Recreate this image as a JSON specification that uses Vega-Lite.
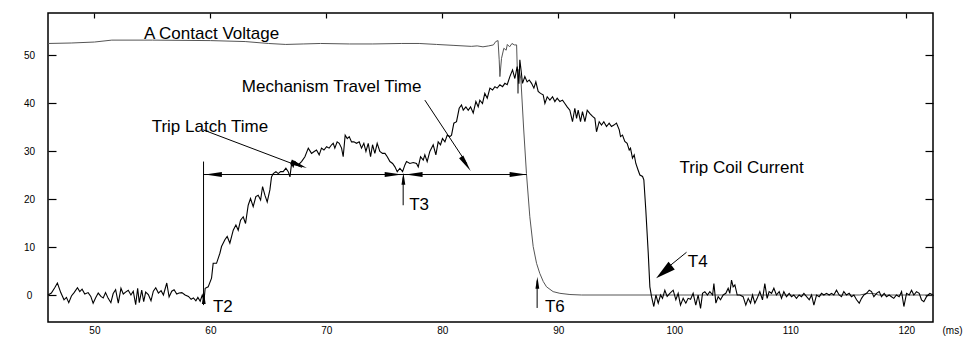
{
  "$schema": "https://vega.github.io/schema/vega-lite/v6.json",
  "width": 885,
  "height": 309,
  "autosize": {"type": "none"},
  "padding": {"left": 48, "top": 13, "right": 33, "bottom": 17},
  "background": "#ffffff",
  "config": {
    "view": {"stroke": "#000000", "strokeWidth": 1.5},
    "font": "Liberation Sans",
    "axis": {"grid": false, "domain": false, "labelFont": "Liberation Sans", "labelFontSize": 10, "labelColor": "#000000", "tickColor": "#000000", "tickWidth": 1.2, "titleFont": "Liberation Sans"}
  },
  "datasets": {
    "voltage": [
      {"x": 46.0, "y": 52.4}, {"x": 48.0, "y": 52.5}, {"x": 50.0, "y": 52.7}, {"x": 51.5, "y": 53.1}, {"x": 55.0, "y": 53.1},
      {"x": 60.0, "y": 53.0}, {"x": 63.0, "y": 52.8}, {"x": 65.0, "y": 52.4}, {"x": 66.5, "y": 52.2}, {"x": 68.0, "y": 52.3},
      {"x": 69.5, "y": 52.4}, {"x": 72.0, "y": 52.3}, {"x": 74.0, "y": 52.3}, {"x": 76.5, "y": 52.4}, {"x": 78.0, "y": 52.4},
      {"x": 79.5, "y": 52.2}, {"x": 81.0, "y": 52.0}, {"x": 82.5, "y": 51.8}, {"x": 83.0, "y": 51.9}, {"x": 83.5, "y": 51.7},
      {"x": 84.0, "y": 51.9}, {"x": 84.4, "y": 52.1}, {"x": 84.6, "y": 52.8}, {"x": 84.8, "y": 53.0}, {"x": 84.9, "y": 49.0},
      {"x": 84.96, "y": 45.5}, {"x": 85.1, "y": 49.3}, {"x": 85.3, "y": 51.4}, {"x": 85.5, "y": 51.0}, {"x": 85.6, "y": 52.2},
      {"x": 85.8, "y": 51.7}, {"x": 86.0, "y": 52.4}, {"x": 86.2, "y": 52.1}, {"x": 86.4, "y": 52.1}, {"x": 86.52, "y": 42.0},
      {"x": 86.6, "y": 47.0}, {"x": 86.77, "y": 45.0}, {"x": 87.0, "y": 35.0}, {"x": 87.25, "y": 25.3}, {"x": 87.54, "y": 16.3},
      {"x": 87.83, "y": 10.1}, {"x": 88.12, "y": 6.6}, {"x": 88.4, "y": 4.5}, {"x": 88.7, "y": 2.8}, {"x": 88.98, "y": 1.7},
      {"x": 89.55, "y": 0.7}, {"x": 90.13, "y": 0.35}, {"x": 91.0, "y": 0.1}, {"x": 92.0, "y": 0.0}, {"x": 100.0, "y": 0.0},
      {"x": 110.0, "y": 0.0}, {"x": 116.0, "y": 0.0}, {"x": 116.6, "y": 0.3}, {"x": 117.2, "y": 0.3}, {"x": 117.6, "y": 0.0},
      {"x": 122.3, "y": 0.0}
    ],
    "current": [
      {"x": 46.0, "y": 0}, {"x": 46.29, "y": 0.4}, {"x": 46.58, "y": 1.5}, {"x": 46.81, "y": 2.5}, {"x": 47.1, "y": 0.5},
      {"x": 47.38, "y": -1.0}, {"x": 47.59, "y": -0.5}, {"x": 47.79, "y": -1.6}, {"x": 48.02, "y": -0.2}, {"x": 48.25, "y": 0.5},
      {"x": 48.54, "y": 1.5}, {"x": 48.74, "y": 0.7}, {"x": 48.94, "y": 1.2}, {"x": 49.17, "y": 0.2}, {"x": 49.46, "y": 0.5},
      {"x": 49.69, "y": -0.3}, {"x": 49.89, "y": -1.7}, {"x": 50.12, "y": -0.5}, {"x": 50.33, "y": 0.4}, {"x": 50.56, "y": -0.3},
      {"x": 50.76, "y": -0.6}, {"x": 50.96, "y": 0.5}, {"x": 51.19, "y": -0.7}, {"x": 51.42, "y": -1.6}, {"x": 51.62, "y": 0.3},
      {"x": 51.83, "y": 1.1}, {"x": 52.06, "y": -1.7}, {"x": 52.29, "y": 1.4}, {"x": 52.49, "y": 0.2}, {"x": 52.69, "y": 0.6},
      {"x": 52.92, "y": 1.0}, {"x": 53.15, "y": 0.0}, {"x": 53.35, "y": 0.8}, {"x": 53.56, "y": -2.0}, {"x": 53.73, "y": 1.4},
      {"x": 53.87, "y": -1.6}, {"x": 54.08, "y": 1.0}, {"x": 54.25, "y": -1.4}, {"x": 54.42, "y": 0.6}, {"x": 54.65, "y": 0.1},
      {"x": 54.88, "y": -1.2}, {"x": 55.08, "y": 0.8}, {"x": 55.29, "y": 1.5}, {"x": 55.52, "y": 0.4}, {"x": 55.75, "y": 0.9},
      {"x": 55.95, "y": 0.0}, {"x": 56.24, "y": 2.5}, {"x": 56.44, "y": -0.4}, {"x": 56.67, "y": 0.8}, {"x": 56.87, "y": 1.1},
      {"x": 57.1, "y": 0.2}, {"x": 57.3, "y": 0.4}, {"x": 57.54, "y": 0.5}, {"x": 57.82, "y": 0.0}, {"x": 58.11, "y": -0.3},
      {"x": 58.34, "y": -0.9}, {"x": 58.54, "y": -0.6}, {"x": 58.75, "y": -1.2}, {"x": 58.92, "y": -0.5}, {"x": 59.12, "y": -1.3},
      {"x": 59.3, "y": 0.0}, {"x": 59.45, "y": -1.2}, {"x": 59.55, "y": 1.4}, {"x": 59.81, "y": 1.7}, {"x": 60.1, "y": 3.5},
      {"x": 60.24, "y": 6.6}, {"x": 60.53, "y": 6.6}, {"x": 60.82, "y": 8.7}, {"x": 60.96, "y": 10.1}, {"x": 61.25, "y": 11.5},
      {"x": 61.45, "y": 12.2}, {"x": 61.68, "y": 10.8}, {"x": 61.97, "y": 13.5}, {"x": 62.2, "y": 14.6}, {"x": 62.4, "y": 13.5},
      {"x": 62.6, "y": 15.6}, {"x": 62.83, "y": 16.3}, {"x": 63.03, "y": 14.9}, {"x": 63.26, "y": 18.7}, {"x": 63.46, "y": 20.1},
      {"x": 63.69, "y": 18.4}, {"x": 63.92, "y": 20.5}, {"x": 64.12, "y": 20.8}, {"x": 64.33, "y": 19.8}, {"x": 64.5, "y": 22.6},
      {"x": 64.7, "y": 20.8}, {"x": 64.9, "y": 19.4}, {"x": 65.13, "y": 21.9}, {"x": 65.27, "y": 24.6}, {"x": 65.42, "y": 25.3},
      {"x": 65.65, "y": 25.7}, {"x": 65.85, "y": 25.3}, {"x": 66.05, "y": 25.7}, {"x": 66.28, "y": 25.7}, {"x": 66.51, "y": 26.4},
      {"x": 66.71, "y": 25.7}, {"x": 66.86, "y": 24.6}, {"x": 67.0, "y": 27.4}, {"x": 67.14, "y": 26.7}, {"x": 67.29, "y": 27.8},
      {"x": 67.57, "y": 27.1}, {"x": 67.86, "y": 27.8}, {"x": 68.15, "y": 28.8}, {"x": 68.44, "y": 30.6}, {"x": 68.72, "y": 29.5},
      {"x": 68.95, "y": 29.9}, {"x": 69.15, "y": 30.2}, {"x": 69.38, "y": 29.2}, {"x": 69.58, "y": 30.6}, {"x": 69.79, "y": 30.2},
      {"x": 70.02, "y": 30.9}, {"x": 70.24, "y": 30.6}, {"x": 70.45, "y": 31.3}, {"x": 70.59, "y": 31.6}, {"x": 70.73, "y": 30.6},
      {"x": 70.93, "y": 31.9}, {"x": 71.11, "y": 31.6}, {"x": 71.31, "y": 30.6}, {"x": 71.45, "y": 28.8}, {"x": 71.62, "y": 33.3},
      {"x": 71.8, "y": 32.6}, {"x": 71.97, "y": 33.0}, {"x": 72.17, "y": 31.9}, {"x": 72.37, "y": 31.9}, {"x": 72.6, "y": 31.6},
      {"x": 72.83, "y": 31.9}, {"x": 73.03, "y": 30.6}, {"x": 73.23, "y": 31.6}, {"x": 73.41, "y": 29.9}, {"x": 73.61, "y": 31.6},
      {"x": 73.81, "y": 28.8}, {"x": 73.98, "y": 31.3}, {"x": 74.18, "y": 29.5}, {"x": 74.38, "y": 31.6}, {"x": 74.61, "y": 29.9},
      {"x": 74.84, "y": 29.5}, {"x": 75.05, "y": 29.5}, {"x": 75.25, "y": 28.8}, {"x": 75.48, "y": 27.8}, {"x": 75.71, "y": 27.4},
      {"x": 75.91, "y": 26.7}, {"x": 76.11, "y": 25.7}, {"x": 76.34, "y": 26.4}, {"x": 76.57, "y": 25.7}, {"x": 76.77, "y": 27.1},
      {"x": 76.91, "y": 27.8}, {"x": 77.2, "y": 27.4}, {"x": 77.49, "y": 27.6}, {"x": 77.77, "y": 27.4}, {"x": 77.92, "y": 26.7},
      {"x": 78.12, "y": 28.8}, {"x": 78.35, "y": 28.1}, {"x": 78.49, "y": 29.2}, {"x": 78.69, "y": 27.8}, {"x": 78.92, "y": 29.9},
      {"x": 79.21, "y": 31.3}, {"x": 79.44, "y": 29.2}, {"x": 79.64, "y": 31.9}, {"x": 79.84, "y": 31.3}, {"x": 80.01, "y": 32.6},
      {"x": 80.22, "y": 31.9}, {"x": 80.42, "y": 33.3}, {"x": 80.65, "y": 33.0}, {"x": 80.79, "y": 33.3}, {"x": 80.99, "y": 35.8},
      {"x": 81.22, "y": 36.1}, {"x": 81.45, "y": 38.9}, {"x": 81.65, "y": 39.6}, {"x": 81.8, "y": 38.5}, {"x": 82.03, "y": 39.2},
      {"x": 82.23, "y": 38.5}, {"x": 82.43, "y": 39.2}, {"x": 82.66, "y": 37.9}, {"x": 82.89, "y": 40.3}, {"x": 83.09, "y": 39.2},
      {"x": 83.23, "y": 40.6}, {"x": 83.46, "y": 39.9}, {"x": 83.66, "y": 42.0}, {"x": 83.87, "y": 41.0}, {"x": 84.1, "y": 43.1},
      {"x": 84.33, "y": 42.7}, {"x": 84.53, "y": 43.4}, {"x": 84.73, "y": 43.1}, {"x": 84.96, "y": 43.8}, {"x": 85.19, "y": 43.4},
      {"x": 85.39, "y": 44.1}, {"x": 85.59, "y": 43.8}, {"x": 85.82, "y": 45.5}, {"x": 86.05, "y": 46.9}, {"x": 86.25, "y": 45.1},
      {"x": 86.45, "y": 47.6}, {"x": 86.6, "y": 44.0}, {"x": 86.68, "y": 49.0}, {"x": 86.8, "y": 46.5}, {"x": 86.91, "y": 44.1},
      {"x": 87.11, "y": 45.5}, {"x": 87.31, "y": 44.4}, {"x": 87.49, "y": 44.8}, {"x": 87.69, "y": 44.1}, {"x": 87.89, "y": 43.1},
      {"x": 88.06, "y": 44.4}, {"x": 88.26, "y": 42.4}, {"x": 88.46, "y": 42.0}, {"x": 88.69, "y": 41.7}, {"x": 88.84, "y": 39.9},
      {"x": 89.04, "y": 41.3}, {"x": 89.27, "y": 40.6}, {"x": 89.5, "y": 41.3}, {"x": 89.7, "y": 40.3}, {"x": 89.9, "y": 41.0},
      {"x": 90.13, "y": 40.3}, {"x": 90.36, "y": 40.6}, {"x": 90.56, "y": 39.9}, {"x": 90.76, "y": 39.2}, {"x": 90.99, "y": 38.5},
      {"x": 91.22, "y": 36.1}, {"x": 91.42, "y": 38.9}, {"x": 91.57, "y": 36.8}, {"x": 91.71, "y": 38.5}, {"x": 91.91, "y": 36.1},
      {"x": 92.08, "y": 38.2}, {"x": 92.29, "y": 36.1}, {"x": 92.49, "y": 38.5}, {"x": 92.72, "y": 37.8}, {"x": 92.95, "y": 37.2},
      {"x": 93.15, "y": 36.8}, {"x": 93.29, "y": 34.0}, {"x": 93.52, "y": 36.1}, {"x": 93.72, "y": 35.4}, {"x": 93.92, "y": 36.1},
      {"x": 94.15, "y": 35.1}, {"x": 94.38, "y": 35.8}, {"x": 94.58, "y": 35.1}, {"x": 94.79, "y": 35.4}, {"x": 95.01, "y": 35.8},
      {"x": 95.25, "y": 34.4}, {"x": 95.36, "y": 33.0}, {"x": 95.53, "y": 33.3}, {"x": 95.73, "y": 32.0}, {"x": 95.93, "y": 31.6},
      {"x": 96.11, "y": 30.2}, {"x": 96.22, "y": 30.6}, {"x": 96.39, "y": 28.5}, {"x": 96.54, "y": 29.2}, {"x": 96.68, "y": 27.4},
      {"x": 96.88, "y": 26.0}, {"x": 97.03, "y": 25.0}, {"x": 97.26, "y": 24.7}, {"x": 97.37, "y": 24.0}, {"x": 97.54, "y": 17.7},
      {"x": 97.75, "y": 8.7}, {"x": 97.89, "y": 1.7}, {"x": 98.03, "y": -0.3}, {"x": 98.23, "y": -2.4}, {"x": 98.41, "y": 0.0},
      {"x": 98.61, "y": -1.7}, {"x": 98.81, "y": 0.0}, {"x": 98.98, "y": -0.7}, {"x": 99.18, "y": 1.0}, {"x": 99.38, "y": -0.3},
      {"x": 99.61, "y": 0.35}, {"x": 99.9, "y": 1.0}, {"x": 100.13, "y": -1.0}, {"x": 100.33, "y": 0.35}, {"x": 100.53, "y": -2.1},
      {"x": 100.76, "y": -0.7}, {"x": 100.99, "y": -1.7}, {"x": 101.19, "y": -0.7}, {"x": 101.4, "y": -0.9}, {"x": 101.62, "y": 0.35},
      {"x": 101.85, "y": -2.1}, {"x": 102.05, "y": 0}, {"x": 102.26, "y": -2.8}, {"x": 102.43, "y": 0.35}, {"x": 102.63, "y": 0.7},
      {"x": 102.85, "y": 0}, {"x": 103.06, "y": 0.7}, {"x": 103.3, "y": 0}, {"x": 103.41, "y": 2.4}, {"x": 103.58, "y": -1.7},
      {"x": 103.78, "y": -0.35}, {"x": 103.98, "y": -1.0}, {"x": 104.21, "y": 0}, {"x": 104.44, "y": 0.35}, {"x": 104.64, "y": 1.4},
      {"x": 104.78, "y": 0.35}, {"x": 104.93, "y": 3.1}, {"x": 105.07, "y": 1.7}, {"x": 105.22, "y": 2.1}, {"x": 105.42, "y": 0},
      {"x": 105.65, "y": 0}, {"x": 105.93, "y": -0.35}, {"x": 106.16, "y": -2.1}, {"x": 106.37, "y": -0.7}, {"x": 106.57, "y": -1.7},
      {"x": 106.74, "y": 0}, {"x": 106.94, "y": -1.7}, {"x": 107.14, "y": -0.7}, {"x": 107.37, "y": 0.7}, {"x": 107.6, "y": -1.0},
      {"x": 107.8, "y": 2.4}, {"x": 108.0, "y": -0.7}, {"x": 108.17, "y": 0.7}, {"x": 108.38, "y": 0.35}, {"x": 108.58, "y": 1.4},
      {"x": 108.8, "y": 0}, {"x": 109.04, "y": 0.7}, {"x": 109.24, "y": -0.7}, {"x": 109.44, "y": 0.7}, {"x": 109.67, "y": -0.35},
      {"x": 109.9, "y": 0.35}, {"x": 110.1, "y": -0.35}, {"x": 110.3, "y": 0}, {"x": 110.53, "y": -0.7}, {"x": 110.76, "y": 0},
      {"x": 110.96, "y": -0.35}, {"x": 111.17, "y": 0.35}, {"x": 111.4, "y": -0.35}, {"x": 111.63, "y": -1.0}, {"x": 111.83, "y": 0},
      {"x": 112.03, "y": -2.1}, {"x": 112.26, "y": 0}, {"x": 112.49, "y": -0.35}, {"x": 112.69, "y": 0.35}, {"x": 112.89, "y": 0},
      {"x": 113.12, "y": 0.35}, {"x": 113.35, "y": 0}, {"x": 113.55, "y": 0.35}, {"x": 113.75, "y": 0}, {"x": 113.98, "y": 1.0},
      {"x": 114.21, "y": 0}, {"x": 114.41, "y": -0.35}, {"x": 114.61, "y": 0.7}, {"x": 114.84, "y": 0}, {"x": 115.07, "y": 0.35},
      {"x": 115.27, "y": -0.35}, {"x": 115.48, "y": 0}, {"x": 115.71, "y": -1.0}, {"x": 115.94, "y": -1.7}, {"x": 116.14, "y": -0.7},
      {"x": 116.34, "y": 0}, {"x": 116.57, "y": 0.35}, {"x": 116.8, "y": 1.0}, {"x": 117.0, "y": 0.7}, {"x": 117.2, "y": -0.35},
      {"x": 117.43, "y": 0.35}, {"x": 117.66, "y": 0.7}, {"x": 117.86, "y": -0.35}, {"x": 118.09, "y": 0.35}, {"x": 118.29, "y": -0.35},
      {"x": 118.52, "y": 0}, {"x": 118.72, "y": -0.35}, {"x": 118.92, "y": -0.7}, {"x": 119.15, "y": 0}, {"x": 119.38, "y": -0.35},
      {"x": 119.59, "y": 0.7}, {"x": 119.79, "y": -2.4}, {"x": 120.02, "y": 0.35}, {"x": 120.25, "y": 0}, {"x": 120.45, "y": 1.0},
      {"x": 120.65, "y": 0}, {"x": 120.88, "y": 0.7}, {"x": 121.11, "y": 0.35}, {"x": 121.31, "y": -1.0}, {"x": 121.51, "y": -1.4},
      {"x": 121.74, "y": -0.35}, {"x": 121.88, "y": 0}, {"x": 122.03, "y": 0.35}, {"x": 122.3, "y": 0}
    ],
    "rules": [
      {"name": "T2 marker", "x": 59.41, "y": 27.8, "x2": 59.41, "y2": -2.1},
      {"name": "interval line", "x": 59.41, "y": 25.1, "x2": 87.26, "y2": 25.1},
      {"name": "Trip Latch pointer", "x": 59.38, "y": 34.4, "x2": 67.9, "y2": 26.6},
      {"name": "Mechanism pointer", "x": 78.49, "y": 40.6, "x2": 82.1, "y2": 27.4},
      {"name": "T3 marker", "x": 76.62, "y": 18.7, "x2": 76.62, "y2": 24.5},
      {"name": "T6 marker", "x": 88.17, "y": -2.7, "x2": 88.17, "y2": 3.0},
      {"name": "T4 pointer", "x": 101.05, "y": 8.9, "x2": 98.8, "y2": 4.5}
    ],
    "arrows": [
      {"name": "T2", "dir": "up", "x": 59.43, "y": -0.6},
      {"name": "T3", "dir": "up", "x": 76.64, "y": 24.2},
      {"name": "T6", "dir": "up", "x": 88.19, "y": 2.56},
      {"name": "interval start", "dir": "left", "x": 60.26, "y": 25.1},
      {"name": "T3 right", "dir": "left", "x": 77.56, "y": 25.1},
      {"name": "T3 left", "dir": "right", "x": 75.76, "y": 25.1},
      {"name": "interval end", "dir": "right", "x": 86.53, "y": 25.1},
      {"name": "Trip Latch", "dir": "latch", "x": 67.63, "y": 27.1},
      {"name": "Mechanism", "dir": "mech", "x": 82.03, "y": 27.3},
      {"name": "T4", "dir": "t4", "x": 99.1, "y": 4.8}
    ],
    "phrases": [
      {"text": "A Contact Voltage", "x": 60.1, "y": 53.3},
      {"text": "Mechanism Travel Time", "x": 70.45, "y": 42.35},
      {"text": "Trip Latch Time", "x": 59.96, "y": 34.0},
      {"text": "Trip Coil Current", "x": 105.8, "y": 25.35}
    ],
    "tags": [
      {"text": "T2", "x": 60.22, "y": -3.48},
      {"text": "T3", "x": 77.14, "y": 17.7},
      {"text": "T6", "x": 88.84, "y": -3.48},
      {"text": "T4", "x": 101.16, "y": 5.9}
    ]
  },
  "resolve": {"axis": {"x": "independent", "y": "independent"}},
  "layer": [
    {
      "data": {"name": "voltage"},
      "mark": {"type": "line", "color": "#555555", "strokeWidth": 1, "interpolate": "linear"},
      "encoding": {
        "x": {"field": "x", "type": "quantitative", "scale": {"domain": [46, 122.3], "nice": false, "zero": false},
          "axis": {"orient": "bottom", "values": [50, 60, 70, 80, 90, 100, 110, 120], "ticks": false, "labelPadding": 3,
            "title": "(ms)", "titleX": 904, "titleY": 3, "titleBaseline": "top", "titleAlign": "center", "titleAngle": 0,
            "titleFontSize": 10, "titleFontWeight": "normal", "titleColor": "#000000"}},
        "y": {"field": "y", "type": "quantitative", "scale": {"domain": [-5.625, 58.75], "nice": false, "zero": false},
          "axis": {"orient": "left", "values": [0, 10, 20, 30, 40, 50], "tickSize": 8, "offset": -8, "labelAlign": "center", "labelPadding": 19, "title": null}}
      }
    },
    {
      "data": {"name": "current"},
      "mark": {"type": "line", "color": "#000000", "strokeWidth": 1.1, "interpolate": "linear"},
      "encoding": {
        "x": {"field": "x", "type": "quantitative",
          "axis": {"orient": "top", "values": [50, 60, 70, 80, 90, 100, 110, 120], "labels": false, "tickSize": 5, "offset": -5, "title": null}},
        "y": {"field": "y", "type": "quantitative",
          "axis": {"orient": "right", "values": [0, 10, 20, 30, 40, 50], "labels": false, "tickSize": 8, "offset": -8, "title": null}}
      }
    },
    {
      "data": {"name": "rules"},
      "mark": {"type": "rule", "color": "#000000", "strokeWidth": 1},
      "encoding": {
        "x": {"field": "x", "type": "quantitative", "axis": null},
        "y": {"field": "y", "type": "quantitative", "axis": null},
        "x2": {"field": "x2"},
        "y2": {"field": "y2"}
      }
    },
    {
      "data": {"name": "arrows"},
      "transform": [{"filter": "datum.dir === 'up'"}],
      "mark": {"type": "point", "shape": "M0,-1L0.32,1L-0.32,1Z", "filled": true, "opacity": 1, "color": "#000000", "size": 144, "angle": 0},
      "encoding": {"x": {"field": "x", "type": "quantitative", "axis": null}, "y": {"field": "y", "type": "quantitative", "axis": null}}
    },
    {
      "data": {"name": "arrows"},
      "transform": [{"filter": "datum.dir === 'left'"}],
      "mark": {"type": "point", "shape": "M0,-1L0.3,1L-0.3,1Z", "filled": true, "opacity": 1, "color": "#000000", "size": 289, "angle": 270},
      "encoding": {"x": {"field": "x", "type": "quantitative", "axis": null}, "y": {"field": "y", "type": "quantitative", "axis": null}}
    },
    {
      "data": {"name": "arrows"},
      "transform": [{"filter": "datum.dir === 'right'"}],
      "mark": {"type": "point", "shape": "M0,-1L0.3,1L-0.3,1Z", "filled": true, "opacity": 1, "color": "#000000", "size": 289, "angle": 90},
      "encoding": {"x": {"field": "x", "type": "quantitative", "axis": null}, "y": {"field": "y", "type": "quantitative", "axis": null}}
    },
    {
      "data": {"name": "arrows"},
      "transform": [{"filter": "datum.dir === 'latch'"}],
      "mark": {"type": "point", "shape": "M0,-1L0.3,1L-0.3,1Z", "filled": true, "opacity": 1, "color": "#000000", "size": 289, "angle": 111},
      "encoding": {"x": {"field": "x", "type": "quantitative", "axis": null}, "y": {"field": "y", "type": "quantitative", "axis": null}}
    },
    {
      "data": {"name": "arrows"},
      "transform": [{"filter": "datum.dir === 'mech'"}],
      "mark": {"type": "point", "shape": "M0,-1L0.3,1L-0.3,1Z", "filled": true, "opacity": 1, "color": "#000000", "size": 289, "angle": 146},
      "encoding": {"x": {"field": "x", "type": "quantitative", "axis": null}, "y": {"field": "y", "type": "quantitative", "axis": null}}
    },
    {
      "data": {"name": "arrows"},
      "transform": [{"filter": "datum.dir === 't4'"}],
      "mark": {"type": "point", "shape": "M0,-1L0.5,1L-0.5,1Z", "filled": true, "opacity": 1, "color": "#000000", "size": 400, "angle": 231},
      "encoding": {"x": {"field": "x", "type": "quantitative", "axis": null}, "y": {"field": "y", "type": "quantitative", "axis": null}}
    },
    {
      "data": {"name": "phrases"},
      "mark": {"type": "text", "font": "Liberation Sans", "fontSize": 17, "color": "#000000", "align": "center", "baseline": "alphabetic"},
      "encoding": {"x": {"field": "x", "type": "quantitative", "axis": null}, "y": {"field": "y", "type": "quantitative", "axis": null}, "text": {"field": "text"}}
    },
    {
      "data": {"name": "tags"},
      "mark": {"type": "text", "font": "Liberation Sans", "fontSize": 17, "color": "#000000", "align": "left", "baseline": "alphabetic"},
      "encoding": {"x": {"field": "x", "type": "quantitative", "axis": null}, "y": {"field": "y", "type": "quantitative", "axis": null}, "text": {"field": "text"}}
    }
  ]
}
